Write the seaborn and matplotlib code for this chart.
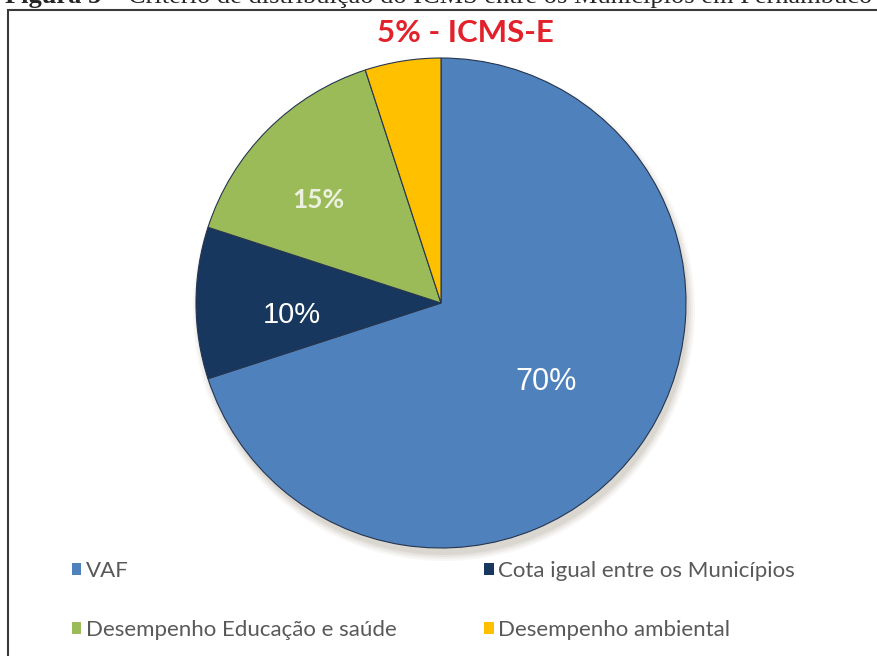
import matplotlib
matplotlib.use("Agg")
import matplotlib.pyplot as plt
import seaborn as sns
from matplotlib.patches import Circle, Rectangle

# Data
labels = ["VAF", "Cota igual entre os Municípios", "Desempenho Educação e saúde", "Desempenho ambiental"]
shares = [70, 10, 15, 5]
colors = ["#4F81BD", "#17375E", "#9BBB59", "#FFC000"]
title = "5% - ICMS-E"
caption_bold = "Figura 5 – "
caption_rest = "Critério de distribuição do ICMS entre os Municípios em Pernambuco"

sns.set_theme(style="white")
plt.rcParams["font.family"] = ["Liberation Sans", "DejaVu Sans"]

W, H = 878, 656
fig = plt.figure(figsize=(W / 100, H / 100), dpi=100)
ax = fig.add_axes([0, 0, 1, 1])

cx, cy, r = 441, H - 303, 245

# soft shadow under the pie
for i, a in enumerate([0.05, 0.06, 0.08, 0.10]):
    ax.add_patch(Circle((cx + 3, cy - 7), r + 6 - i * 2, color="#7a6a50", alpha=a, lw=0, zorder=0))

wedges, texts, autotexts = ax.pie(
    shares, colors=colors, startangle=90, counterclock=False,
    center=(cx, cy), radius=r, autopct="%.0f%%", pctdistance=0.6,
    wedgeprops=dict(edgecolor="#26354f", linewidth=0.8),
)
for w in wedges:
    w.set_zorder(2)

# move labels along their wedge direction, plus a small nudge
for t, d, (ox, oy) in zip(autotexts, [0.53, 0.61, 0.65, 0.6], [(0, -3), (0, -12), (-10, -10), (0, 0)]):
    x, y = t.get_position()
    t.set_position((cx + (x - cx) * d / 0.6 + ox, cy + (y - cy) * d / 0.6 + oy))

autotexts[0].set(color="white", fontsize=22)
autotexts[1].set(color="white", fontsize=21)
autotexts[2].set(color="#EBF1DE", fontsize=19, fontweight="bold", family=["Lato", "DejaVu Sans"])
autotexts[3].set_text("")
for t in autotexts:
    t.set_zorder(5)

ax.set_xlim(0, W)
ax.set_ylim(0, H)
ax.set_aspect("equal")
ax.axis("off")

ax.text(465, H - 33, title, color="#E2212B", fontsize=22.5, fontweight="bold",
        ha="center", va="center", family=["Lato", "DejaVu Sans"])

# legend: columns VAF / Educação, Cota / ambiental
order = [0, 2, 1, 3]
leg = ax.legend([wedges[i] for i in order], [labels[i] for i in order], ncol=2,
                loc="upper left", bbox_to_anchor=(52 / W, 1 - 541 / H),
                frameon=False, handlelength=0.42, handleheight=0.42, handletextpad=0.2,
                labelspacing=1.76, columnspacing=3.95,
                prop=dict(family=["Lato", "DejaVu Sans"], size=16))
for t in leg.get_texts():
    t.set_color("#595959")
for h in leg.legend_handles:
    h.set_edgecolor("none")

# frame around the chart
ax.add_patch(Rectangle((8, -20), W + 20, H - 10 + 20, fill=False, edgecolor="#3a3a3a", lw=1.5, zorder=6))

# figure caption, cut off at the top
cap = fig.text(5 / W, 1 - 3.5 / H, caption_bold, fontsize=19, fontweight="bold",
               family=["Liberation Serif", "DejaVu Serif"], ha="left", va="baseline")
ax.annotate(caption_rest, xy=(1, 0), xycoords=cap, ha="left", va="bottom",
            fontsize=19, family=["Liberation Serif", "DejaVu Serif"], annotation_clip=False)

fig.savefig("out.png", dpi=100)
